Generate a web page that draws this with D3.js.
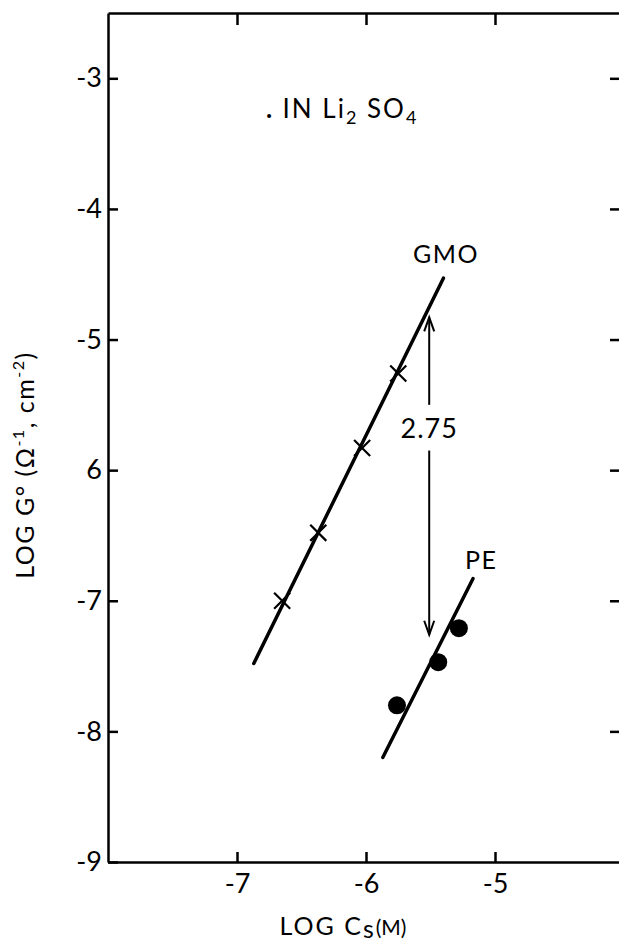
<!DOCTYPE html>
<html>
<head>
<meta charset="utf-8">
<script src="https://cdn.jsdelivr.net/npm/d3@7"></script>
<style>
  body { margin: 0; background: #fff; }
  svg text { font-family: Lato, "DejaVu Sans", sans-serif; fill: #000; }
  .axis path, .axis line { stroke: #000; stroke-width: 2.5; }
</style>
</head>
<body>
<div id="vis"></div>
<script>
const FRAME_WIDTH = 619;
const FRAME_HEIGHT = 945;

// data
const X_TICKS = [-7, -6, -5];
const X_TICK_LABELS = ["-7", "-6", "-5"];
const Y_TICKS = [-3, -4, -5, -6, -7, -8, -9];
const Y_TICK_LABELS = ["-3", "-4", "-5", "6", "-7", "-8", "-9"];

const GMO_X = [-6.65, -6.37, -6.03, -5.75];
const GMO_Y = [-7.0, -6.48, -5.83, -5.26];
const GMO_FIT_X = [-6.87, -5.40];
const GMO_FIT_Y = [-7.48, -4.53];

const PE_X = [-5.76, -5.44, -5.28];
const PE_Y = [-7.80, -7.47, -7.21];
const PE_FIT_X = [-5.87, -5.17];
const PE_FIT_Y = [-8.20, -6.83];

// 2.75 arrow
const ARROW_X = -5.51;
const ARROW_Y = [-4.83, -7.26];
const ARROW_GAP = [-5.50, -5.85];

const FRAME = d3.select("#vis")
  .append("svg")
    .attr("width", FRAME_WIDTH)
    .attr("height", FRAME_HEIGHT);

const X_SCALE = d3.scaleLinear().domain([-8, -4]).range([108, 624]);
const Y_SCALE = d3.scaleLinear().domain([-9, -2.5]).range([862, 13]);

// left axis
FRAME.append("g")
  .attr("class", "axis")
  .attr("transform", "translate(" + X_SCALE(-8) + ",0)")
  .call(d3.axisLeft(Y_SCALE).tickValues(Y_TICKS)
        .tickSizeInner(-10).tickSizeOuter(0).tickPadding(6)
        .tickFormat((d, i) => Y_TICK_LABELS[i]))
  .attr("font-size", "27px");

// right axis (line sits just off the page, only ticks show)
FRAME.append("g")
  .attr("class", "axis")
  .attr("transform", "translate(" + X_SCALE(-4) + ",0)")
  .call(d3.axisRight(Y_SCALE).tickValues(Y_TICKS.slice(0, 6))
        .tickSizeInner(-14).tickSizeOuter(0).tickFormat(""));

// bottom axis
FRAME.append("g")
  .attr("class", "axis")
  .attr("transform", "translate(0," + Y_SCALE(-9) + ")")
  .call(d3.axisBottom(X_SCALE).tickValues(X_TICKS)
        .tickSizeInner(-10).tickSizeOuter(0).tickPadding(12)
        .tickFormat((d, i) => X_TICK_LABELS[i]))
  .attr("font-size", "27px");

// top axis
FRAME.append("g")
  .attr("class", "axis")
  .attr("transform", "translate(0," + Y_SCALE(-2.5) + ")")
  .call(d3.axisTop(X_SCALE).tickValues(X_TICKS)
        .tickSizeInner(-12).tickSizeOuter(0).tickFormat(""));

FRAME.selectAll(".axis text").style("font-family", "Lato, 'DejaVu Sans', sans-serif");

// fit lines
const line = d3.line().x(d => X_SCALE(d[0])).y(d => Y_SCALE(d[1]));

FRAME.append("path")
  .datum(d3.zip(GMO_FIT_X, GMO_FIT_Y))
  .attr("d", line)
  .attr("stroke", "#000").attr("stroke-width", 3.5)
  .attr("stroke-linecap", "round").attr("fill", "none");

FRAME.append("path")
  .datum(d3.zip(PE_FIT_X, PE_FIT_Y))
  .attr("d", line)
  .attr("stroke", "#000").attr("stroke-width", 3.5)
  .attr("stroke-linecap", "round").attr("fill", "none");

// GMO crosses
FRAME.selectAll(".cross")
  .data(d3.zip(GMO_X, GMO_Y))
  .enter()
  .append("path")
    .attr("class", "cross")
    .attr("d", d3.symbol(d3.symbolX, 170))
    .attr("transform", d => "translate(" + X_SCALE(d[0]) + "," + Y_SCALE(d[1]) + ")")
    .attr("fill", "none")
    .attr("stroke", "#000")
    .attr("stroke-width", 2.2);

// PE dots
FRAME.selectAll(".dot")
  .data(d3.zip(PE_X, PE_Y))
  .enter()
  .append("circle")
    .attr("class", "dot")
    .attr("cx", d => X_SCALE(d[0]))
    .attr("cy", d => Y_SCALE(d[1]))
    .attr("r", 9)
    .attr("fill", "#000");

// arrow with the 2.75 label
const ax = X_SCALE(ARROW_X);
FRAME.append("line")
  .attr("x1", ax).attr("x2", ax)
  .attr("y1", Y_SCALE(ARROW_Y[0])).attr("y2", Y_SCALE(ARROW_GAP[0]))
  .attr("stroke", "#000").attr("stroke-width", 2);
FRAME.append("line")
  .attr("x1", ax).attr("x2", ax)
  .attr("y1", Y_SCALE(ARROW_GAP[1])).attr("y2", Y_SCALE(ARROW_Y[1]))
  .attr("stroke", "#000").attr("stroke-width", 2);

const topTip = Y_SCALE(ARROW_Y[0]);
const botTip = Y_SCALE(ARROW_Y[1]);
FRAME.append("path")
  .attr("d", "M" + (ax - 5) + "," + (topTip + 14) + "L" + ax + "," + topTip + "L" + (ax + 5) + "," + (topTip + 14))
  .attr("stroke", "#000").attr("stroke-width", 2).attr("fill", "none");
FRAME.append("path")
  .attr("d", "M" + (ax - 5) + "," + (botTip - 14) + "L" + ax + "," + botTip + "L" + (ax + 5) + "," + (botTip - 14))
  .attr("stroke", "#000").attr("stroke-width", 2).attr("fill", "none");

FRAME.append("text")
  .attr("x", ax)
  .attr("y", Y_SCALE((ARROW_GAP[0] + ARROW_GAP[1]) / 2) + 10)
  .attr("text-anchor", "middle")
  .attr("font-size", "27px")
  .attr("letter-spacing", "1px")
  .text("2.75");

// series labels
FRAME.append("text")
  .attr("x", 413).attr("y", 263)
  .attr("font-size", "25px")
  .attr("letter-spacing", "1.5px")
  .text("GMO");

FRAME.append("text")
  .attr("x", 465).attr("y", 569)
  .attr("font-size", "25px")
  .attr("letter-spacing", "1.5px")
  .text("PE");

// condition label
const cond = FRAME.append("text")
  .attr("x", 266).attr("y", 118)
  .attr("font-size", "26px")
  .attr("letter-spacing", "2px");
cond.append("tspan").attr("font-weight", "bold").text(". ");
cond.append("tspan").text("IN  Li");
cond.append("tspan").attr("font-size", "18px").attr("dy", 6).text("2");
cond.append("tspan").attr("dy", -6).text(" SO");
cond.append("tspan").attr("font-size", "18px").attr("dy", 6).text("4");

// x axis title
const xt = FRAME.append("text")
  .attr("x", 343).attr("y", 935)
  .attr("text-anchor", "middle")
  .attr("font-size", "25px")
  .attr("letter-spacing", "2px");
xt.append("tspan").text("LOG  C");
xt.append("tspan").attr("dy", 3).text("s");
xt.append("tspan").attr("dy", -3).attr("font-size", "21px").attr("letter-spacing", "0px").text("(M)");

// y axis title
const yt = FRAME.append("text")
  .attr("transform", "translate(34,465) rotate(-90)")
  .attr("text-anchor", "middle")
  .attr("font-size", "25px")
  .attr("letter-spacing", "1.5px");
yt.append("tspan").text("LOG  G° (Ω");
yt.append("tspan").attr("font-size", "16px").attr("dy", -10).text("-1");
yt.append("tspan").attr("dy", 10).text(", cm");
yt.append("tspan").attr("font-size", "16px").attr("dy", -10).text("-2");
yt.append("tspan").attr("dy", 10).text(")");
</script>
</body>
</html>
